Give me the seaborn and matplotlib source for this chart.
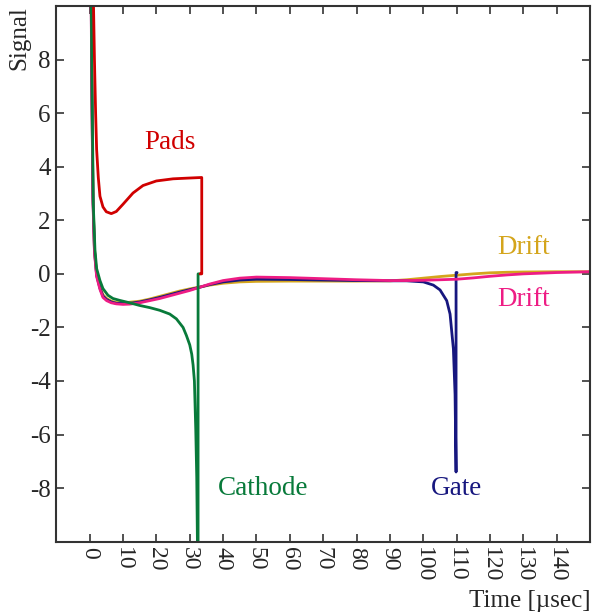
import numpy as np
import pandas as pd
import matplotlib
matplotlib.use("Agg")
import matplotlib.pyplot as plt
import seaborn as sns

# Signal shapes (time in usec)
pads_t = [0.5, 0.8, 1.1, 1.45, 1.8, 2.1, 2.6, 3.1, 4, 5, 6.5, 8, 10, 13, 16, 20, 25, 30, 33.6, 33.6, 33.1]
pads_y = [16, 12, 10.5, 8, 6, 4.65, 3.6, 2.9, 2.5, 2.32, 2.25, 2.33, 2.6, 3.02, 3.3, 3.47, 3.55, 3.58, 3.6, 0, 0]

cath_t = [0.1, 0.3, 0.6, 1.1, 1.6, 2.1, 3.1, 4, 5.5, 7, 9, 12, 15, 18, 21, 24, 26, 28, 29, 30, 30.6, 31.0,
          31.4, 31.8, 32.1, 32.3, 32.5, 32.5, 33.1]
cath_y = [16, 14, 8.5, 2.6, 0.9, 0.2, -0.25, -0.55, -0.8, -0.92, -0.99, -1.08, -1.18, -1.26, -1.36, -1.5,
          -1.68, -2.0, -2.3, -2.65, -3.0, -3.4, -4.0, -5.8, -7.6, -10, -12, 0, 0]

drift_t = [0.1, 0.3, 0.6, 1.0, 1.45, 2.1, 3.1, 4, 5.1, 6.5, 8, 10, 12, 15, 18, 21, 24, 27, 30, 33, 36, 40,
           45, 50, 60, 70, 80, 90, 95, 100, 105, 110, 115, 120, 125, 130, 140, 150]
drift1_y = [16, 14, 8, 3.0, 0.93, 0.0, -0.5, -0.78, -0.92, -1.02, -1.07, -1.08, -1.06, -1.02, -0.94, -0.84,
            -0.74, -0.64, -0.56, -0.49, -0.42, -0.35, -0.3, -0.28, -0.27, -0.27, -0.27, -0.26, -0.22, -0.16,
            -0.1, -0.05, 0.0, 0.04, 0.06, 0.07, 0.08, 0.08]
drift2_y = [16, 13.5, 7.5, 2.7, 0.8, -0.1, -0.58, -0.88, -1.0, -1.08, -1.12, -1.14, -1.13, -1.08, -1.0,
            -0.92, -0.82, -0.72, -0.62, -0.5, -0.38, -0.25, -0.16, -0.12, -0.14, -0.18, -0.22, -0.25, -0.25,
            -0.24, -0.22, -0.2, -0.15, -0.09, -0.04, 0.0, 0.05, 0.08]

gate_t = [0.1, 0.3, 0.6, 1.0, 1.45, 2.1, 3.1, 4, 5.1, 6.5, 8, 10, 12, 15, 18, 21, 24, 27, 30, 33, 36, 40,
          45, 50, 60, 70, 80, 90, 95, 100, 103, 105, 107, 108, 109, 109.5, 109.8, 109.8, 110.1]
gate_y = [16, 13.8, 7.8, 2.85, 0.87, -0.05, -0.54, -0.83, -0.96, -1.05, -1.1, -1.11, -1.1, -1.05, -0.97,
          -0.88, -0.78, -0.68, -0.59, -0.5, -0.4, -0.3, -0.23, -0.2, -0.21, -0.23, -0.25, -0.26, -0.26,
          -0.3, -0.42, -0.6, -1.0, -1.5, -2.8, -4.5, -7.4, 0.05, 0.05]

colors = {"Pads": "#d00000", "Cathode": "#087a3a", "Gate": "#17177f",
          "Drift1": "#d4a51c", "Drift2": "#ee1c84"}

x_ticks = list(range(0, 150, 10))
y_ticks = list(range(-8, 10, 2))

sns.set_theme(style="ticks")
plt.rcParams['font.family'] = ['Liberation Serif', 'DejaVu Serif']

fig, ax = plt.subplots(figsize=(5.92, 6.12), dpi=100)
fig.subplots_adjust(left=0.095, right=0.997, top=0.99, bottom=0.115)

series = [("Drift1", drift_t, drift1_y), ("Gate", gate_t, gate_y), ("Drift2", drift_t, drift2_y),
          ("Cathode", cath_t, cath_y), ("Pads", pads_t, pads_y)]
for name, t, y in series:
    df = pd.DataFrame({"t": t, "y": y})
    sns.lineplot(data=df, x="t", y="y", ax=ax, sort=False, estimator=None,
                 color=colors[name], linewidth=2.0)

ax.set_xlim(-10, 150)
ax.set_ylim(-10, 10)
ax.set_xticks(x_ticks)
ax.set_yticks(y_ticks)
ax.set_xticklabels([str(v) for v in x_ticks], rotation=-90, fontsize=17)
ax.set_yticklabels([str(v) for v in y_ticks], fontsize=18)
ax.tick_params(direction="in", length=6, width=1.2, top=True, right=True, color="#333333", pad=4)
for sp in ax.spines.values():
    sp.set_linewidth(1.5)
    sp.set_color("#333333")

ax.set_xlabel("Time [µsec]", fontsize=18, loc="right", labelpad=5)
ax.set_ylabel("Signal", fontsize=18, loc="top", labelpad=0)

lab_fs = 19.5
ax.text(24, 4.9, "Pads", color=colors["Pads"], fontsize=lab_fs, ha="center", va="center")
ax.text(52, -8.0, "Cathode", color=colors["Cathode"], fontsize=lab_fs, ha="center", va="center")
ax.text(110, -8.0, "Gate", color=colors["Gate"], fontsize=lab_fs, ha="center", va="center")
ax.text(130, 1.0, "Drift", color=colors["Drift1"], fontsize=lab_fs, ha="center", va="center")
ax.text(130, -0.97, "Drift", color=colors["Drift2"], fontsize=lab_fs, ha="center", va="center")

fig.savefig("out.png", dpi=100)
